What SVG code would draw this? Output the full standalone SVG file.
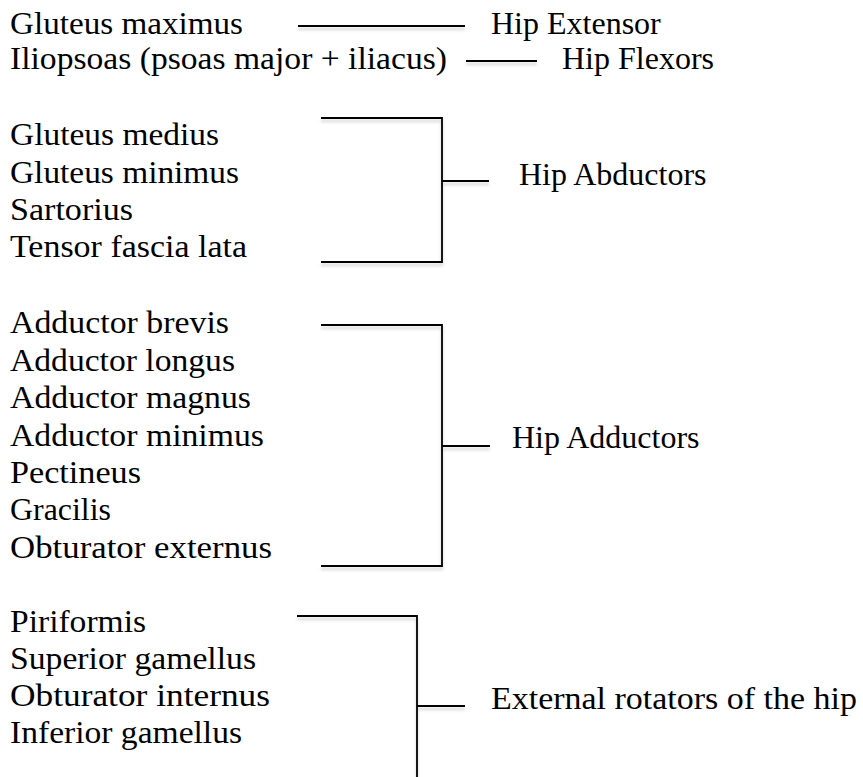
<svg xmlns="http://www.w3.org/2000/svg" width="863" height="777" viewBox="0 0 863 777">
<defs>
<filter id="sh" filterUnits="userSpaceOnUse" x="0" y="0" width="863" height="790">
<feDropShadow dx="0" dy="3" stdDeviation="1.5" flood-color="#000" flood-opacity="0.18"/>
</filter>
<style>
text{font-family:"Liberation Serif","Times New Roman",serif;font-size:32px;fill:#000}
.c{fill:none;stroke:#000;stroke-width:1.8;filter:url(#sh)}
</style>
</defs>
<rect width="863" height="777" fill="#fff"/>
<g id="muscles">
<text x="10" y="34" textLength="233" lengthAdjust="spacingAndGlyphs">Gluteus maximus</text>
<text x="10" y="69" textLength="437" lengthAdjust="spacingAndGlyphs">Iliopsoas (psoas major + iliacus)</text>
<g id="abductor-muscles">
<text x="10" y="145" textLength="209" lengthAdjust="spacingAndGlyphs">Gluteus medius</text>
<text x="10" y="183" textLength="229" lengthAdjust="spacingAndGlyphs">Gluteus minimus</text>
<text x="10" y="220" textLength="123" lengthAdjust="spacingAndGlyphs">Sartorius</text>
<text x="10" y="257" textLength="237" lengthAdjust="spacingAndGlyphs">Tensor fascia lata</text>
</g>
<g id="adductor-muscles">
<text x="10" y="333" textLength="219" lengthAdjust="spacingAndGlyphs">Adductor brevis</text>
<text x="10" y="371" textLength="225" lengthAdjust="spacingAndGlyphs">Adductor longus</text>
<text x="10" y="408" textLength="241" lengthAdjust="spacingAndGlyphs">Adductor magnus</text>
<text x="10" y="446" textLength="254" lengthAdjust="spacingAndGlyphs">Adductor minimus</text>
<text x="10" y="483" textLength="131" lengthAdjust="spacingAndGlyphs">Pectineus</text>
<text x="10" y="520" textLength="101" lengthAdjust="spacingAndGlyphs">Gracilis</text>
<text x="10" y="558" textLength="262" lengthAdjust="spacingAndGlyphs">Obturator externus</text>
</g>
<g id="rotator-muscles">
<text x="10" y="632" textLength="136" lengthAdjust="spacingAndGlyphs">Piriformis</text>
<text x="10" y="669" textLength="246" lengthAdjust="spacingAndGlyphs">Superior gamellus</text>
<text x="10" y="706" textLength="260" lengthAdjust="spacingAndGlyphs">Obturator internus</text>
<text x="10" y="743" textLength="232" lengthAdjust="spacingAndGlyphs">Inferior gamellus</text>
</g>
</g>
<g id="groups">
<text id="hip-extensor" x="491" y="34">Hip Extensor</text>
<text id="hip-flexors" x="562" y="69">Hip Flexors</text>
<text id="hip-abductors" x="519" y="185">Hip Abductors</text>
<text id="hip-adductors" x="512" y="448">Hip Adductors</text>
<text id="external-rotators" x="491" y="709" textLength="366" lengthAdjust="spacingAndGlyphs">External rotators of the hip</text>
</g>
<g id="connectors">
<path class="c" d="M298 26H465"/>
<path class="c" d="M466 61H537"/>
<path class="c" d="M321 118H442V262H321M442 181H489"/>
<path class="c" d="M321 325H442V566H321M442 446H490"/>
<path class="c" d="M297 616H417V778M417 706H465"/>
</g>
</svg>
